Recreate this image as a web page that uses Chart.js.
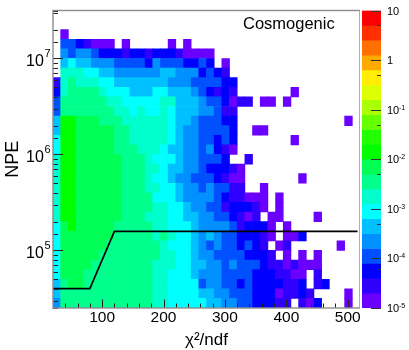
<!DOCTYPE html>
<html>
<head>
<meta charset="utf-8">
<script src="https://cdn.jsdelivr.net/npm/chart.js@4/dist/chart.umd.min.js"></script>
<style>
html,body{margin:0;padding:0;background:#fff;overflow:hidden}
canvas{position:absolute;top:0}
</style>
</head>
<body>
<canvas id="main" width="360" height="350" style="left:0"></canvas>
<canvas id="pal" width="49" height="350" style="left:360px"></canvas>
<script>
// palette, lowest level first
const paletteColors=['#6a00ff','#3000ff','#0000ff','#0050ff','#0090ff','#00c0ff','#00ffff','#00ffcc','#00ff8c','#00ff55','#00ff00','#22ff00','#66ff00','#aaff00','#ddff00','#ffee00','#ffaa00','#ff7000','#ff3000','#ff0000'];
const n=null;
// colour level of each bin, top row (NPE ~ 3e7) first, chi2/ndf 20..520 in 40 bins
const binLevels=[
[],
[],
[n,0],
[n,3,3,2,1,0,0,0,n,0,n,n,n,n,n,0,n,0],
[n,4,3,4,4,3,2,2,2,1,2,2,1,2,2,2,1,0,0,0,0],
[n,5,6,5,5,4,4,4,3,3,3,3,2,4,3,3,3,2,2,3,2,n,0],
[n,7,7,7,6,6,5,5,4,4,4,4,4,4,5,5,4,4,4,2,3,2,1],
[1,7,8,7,7,7,6,6,5,5,5,5,5,5,5,4,4,4,3,3,3,3,2,2],
[2,7,8,8,8,8,7,6,6,6,5,5,5,6,6,5,5,5,4,3,2,1,2,1,n,n,n,n,n,n,n,0],
[3,8,8,8,8,8,8,7,7,6,6,6,6,6,7,7,5,5,5,4,3,3,2,0,1,1,n,0,0,n,0],
[3,8,8,8,8,8,8,8,7,7,6,7,6,6,7,6,5,5,5,4,4,3,1,1],
[5,10,10,9,9,9,8,8,8,7,7,7,7,7,7,6,5,5,4,3,3,3,2,2,n,n,n,n,n,n,n,n,n,n,n,n,n,n,0],
[5,10,10,9,9,9,9,9,8,8,7,7,7,7,7,6,5,4,4,3,3,3,3,2,n,n,0,0],
[6,10,10,9,9,9,9,9,8,8,7,7,7,7,7,6,5,4,4,3,3,2,3,2,n,n,n,n,n,n,n,0],
[6,10,10,9,9,9,9,9,8,8,8,7,7,7,6,5,5,4,4,3,4,2,1,0],
[7,10,10,9,9,9,9,9,9,8,8,8,7,6,6,6,5,4,4,3,3,3,2,n,n,1],
[7,10,10,9,9,9,9,9,9,8,8,8,7,7,6,5,5,4,4,3,2,2,2,1,0],
[7,10,10,9,9,9,9,9,9,8,8,8,7,6,6,5,4,4,3,3,3,2,1,0,0,n,n,n,n,n,n,n,0],
[7,10,10,9,9,9,9,9,9,8,8,8,7,7,6,6,5,4,4,3,4,3,3,1,1,n,n,0],
[7,10,10,9,9,9,9,9,9,8,8,8,8,6,6,6,5,4,4,4,4,3,2,1,1,0,0,0,n,0],
[7,10,10,9,9,9,9,9,9,8,8,8,8,7,7,6,6,5,4,4,3,3,1,2,2,2,1,0,n,0],
[7,10,10,9,9,9,9,9,9,8,8,8,7,7,7,6,6,5,5,4,4,3,3,2,1,0,1,n,0,0,n,n,n,n,0],
[6,9,10,9,9,9,9,9,8,8,8,8,8,7,7,6,6,6,5,4,4,4,4,3,1,2,2,2,0,n,0],
[6,9,9,9,9,9,9,9,8,8,8,8,8,7,8,7,6,6,5,4,5,4,3,3,2,2,2,1,0,n,0,0,2],
[6,9,9,9,9,9,9,8,8,8,8,8,8,8,7,6,6,6,5,4,3,4,3,3,2,3,2,1,n,0,1,n,n,n,n,n,n,0],
[6,9,9,9,9,9,8,8,8,8,8,8,8,8,7,7,6,6,5,4,4,3,3,3,3,2,2,2,1,n,0,n,0,n,0],
[6,9,9,9,9,8,8,8,8,8,8,8,8,7,7,7,6,6,5,5,4,4,3,4,3,3,3,2,1,1,0,1,0,0,0],
[6,9,9,9,8,8,8,8,8,8,8,8,8,7,7,6,6,6,5,4,4,4,3,3,3,3,2,2,2,1,1,0,0,n,1],
[5,8,9,9,8,8,8,8,8,8,8,8,8,7,7,6,6,6,6,3,4,4,3,3,2,3,2,2,2,2,1,1,2,n,1,2],
[5,8,8,8,8,8,8,8,8,8,8,8,8,7,7,6,6,6,6,5,5,4,4,3,3,3,2,2,2,0,1,1,2,1,n,n,n,n,0],
[4,8,8,8,8,8,8,8,8,8,8,8,8,7,7,6,6,6,6,6,5,5,4,4,3,3,2,2,2,1,1,n,1,0,2,n,n,n,0]
];
const xMin=20, xMax=520, xBins=40;
const yLogMin=4.4, yLogMax=7.5, yRows=31;
const zLogMin=-5, zLogMax=1;
const xTickValues=[100,200,300,400,500];
const yTickExponents=[5,6,7];
const zTickLabels=[['10',''],['1',''],['10','-1'],['10','-2'],['10','-3'],['10','-4'],['10','-5']];
const cutX=[20,80,120,516];
const cutY=[40000,40000,158000,158000];

const textFont='"Liberation Sans", Arial, sans-serif';

function isMajorDecade(v){ return Math.abs(Math.log10(v)-Math.round(Math.log10(v)))<1e-6; }

const cells=[];
binLevels.forEach((row,r)=>{
  const logLo=yLogMax-(r+1)*(yLogMax-yLogMin)/yRows, logHi=logLo+(yLogMax-yLogMin)/yRows;
  row.forEach((lvl,c)=>{
    if(lvl===null) return;
    cells.push({x:xMin+(c+0.5)*(xMax-xMin)/xBins,y:[Math.pow(10,logLo),Math.pow(10,logHi)],lvl:lvl});
  });
});

// ROOT style axes: frame, inward ticks and exponent labels
const mainAxes={id:'mainAxes',afterDatasetsDraw(chart){
  const c=chart.ctx,a=chart.chartArea,xs=chart.scales.x,ys=chart.scales.y;
  c.save();
  c.strokeStyle='#222';c.lineWidth=1;
  ys.ticks.forEach(t=>{
    const y=Math.round(ys.getPixelForValue(t.value))+0.5;
    c.beginPath();c.moveTo(a.left,y);c.lineTo(a.left+(isMajorDecade(t.value)?10:5),y);c.stroke();
  });
  for(let v=40;v<xMax;v+=20){
    const x=Math.round(xs.getPixelForValue(v))+0.5,len=v%100===0?8.5:4.5;
    c.beginPath();c.moveTo(x,a.bottom);c.lineTo(x,a.bottom-len);c.stroke();
  }
  c.strokeStyle='#8c8c8c';c.lineWidth=1.4;
  c.strokeRect(a.left,a.top,a.right-a.left,a.bottom-a.top);
  c.fillStyle='#000';c.textBaseline='alphabetic';c.textAlign='left';
  yTickExponents.forEach(e=>{
    const y=ys.getPixelForValue(Math.pow(10,e));
    c.font='16px '+textFont;c.fillText('10',26,y+8);
    c.font='11px '+textFont;c.fillText(String(e),44.5,y-1);
  });
  c.font='16.5px '+textFont;
  c.fillText('Cosmogenic',243,29);
  c.restore();
}};

new Chart(document.getElementById('main'),{
  type:'bar',
  data:{datasets:[
    {type:'line',data:cutX.map((x,i)=>({x:x,y:cutY[i]})),borderColor:'#000',borderWidth:1.7,pointRadius:0,tension:0,fill:false,order:0},
    {type:'bar',data:cells,order:1,borderWidth:0,categoryPercentage:1,barPercentage:1,
     backgroundColor:ctx=>paletteColors[ctx.raw?ctx.raw.lvl:0]}
  ]},
  options:{
    responsive:false,animation:false,
    layout:{padding:{top:10.5,right:0,left:0,bottom:0}},
    plugins:{legend:{display:false},tooltip:{enabled:false}},
    scales:{
      x:{type:'linear',offset:false,min:xMin,max:xMax,
        afterBuildTicks(s){s.ticks=xTickValues.map(v=>({value:v}));},
        afterFit(s){s.height=42;},
        grid:{display:false},border:{display:false},
        ticks:{autoSkip:false,maxRotation:0,color:'#000',padding:-8,font:{family:textFont,size:15.5}},
        title:{display:true,text:'χ²/ndf',color:'#000',font:{family:textFont,size:17},padding:{top:0,bottom:-1}}},
      y:{type:'logarithmic',min:Math.pow(10,yLogMin),max:Math.pow(10,yLogMax),
        afterFit(s){s.width=53;},
        grid:{display:false},border:{display:false},
        ticks:{display:false},
        title:{display:true,text:'NPE',color:'#000',font:{family:textFont,size:18},padding:{top:2,bottom:0}}}
    }
  },
  plugins:[mainAxes]
});

// colour scale
const palBars=paletteColors.map((col,i)=>{
  const step=(zLogMax-zLogMin)/paletteColors.length;
  return {x:0,y:[Math.pow(10,zLogMin+i*step),Math.pow(10,zLogMin+(i+1)*step)]};
});
const palAxis={id:'palAxis',afterDatasetsDraw(chart){
  const c=chart.ctx,a=chart.chartArea,ys=chart.scales.y;
  c.save();
  c.strokeStyle='#333';c.lineWidth=1;
  ys.ticks.forEach(t=>{
    const y=Math.round(ys.getPixelForValue(t.value))+0.5;
    c.beginPath();c.moveTo(a.right,y);c.lineTo(a.right-(isMajorDecade(t.value)?10:4),y);c.stroke();
  });
  c.fillStyle='#000';c.textBaseline='alphabetic';c.textAlign='left';
  zTickLabels.forEach((lab,i)=>{
    const y=ys.getPixelForValue(Math.pow(10,zLogMax-i));
    c.font='11px '+textFont;c.fillText(lab[0],a.right+6,y+4);
    if(lab[1]){c.font='7px '+textFont;c.fillText(lab[1],a.right+18,y);}
  });
  c.restore();
}};
new Chart(document.getElementById('pal'),{
  type:'bar',
  data:{datasets:[{data:palBars,borderWidth:0,categoryPercentage:1,barPercentage:1,barThickness:19,
    backgroundColor:paletteColors}]},
  options:{
    responsive:false,animation:false,
    layout:{padding:{top:10.5,right:28,left:2,bottom:42}},
    plugins:{legend:{display:false},tooltip:{enabled:false}},
    scales:{
      x:{type:'linear',display:false,offset:false,min:-0.5,max:0.5},
      y:{type:'logarithmic',display:false,min:Math.pow(10,zLogMin),max:Math.pow(10,zLogMax)}
    }
  },
  plugins:[palAxis]
});
</script>
</body>
</html>
